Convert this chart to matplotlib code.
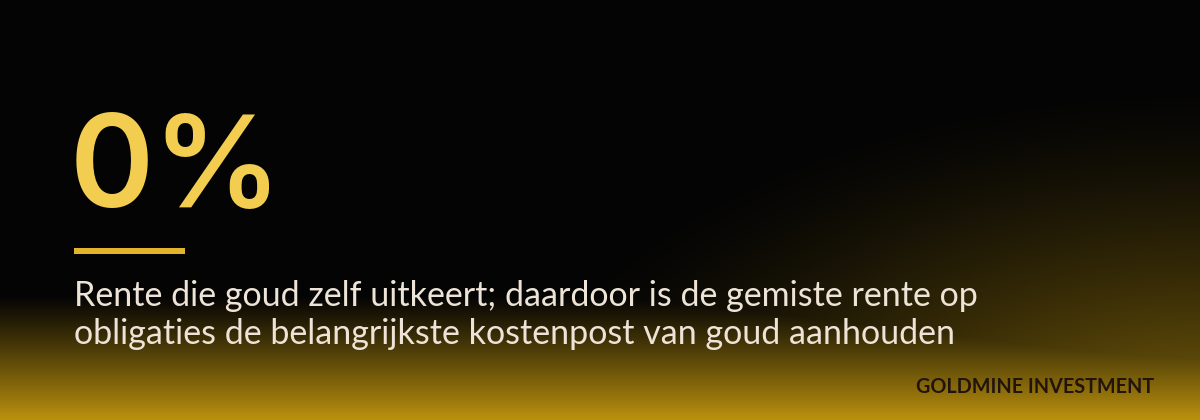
import numpy as np
import matplotlib.pyplot as plt

W, H = 1200, 420

stat_value = "0%"
stat_lines = [
    "Rente die goud zelf uitkeert; daardoor is de gemiste rente op",
    "obligaties de belangrijkste kostenpost van goud aanhouden",
]
brand = "GOLDMINE INVESTMENT"

fig = plt.figure(figsize=(12, 4.2), dpi=100)
ax = fig.add_axes([0, 0, 1, 1])
ax.set_xlim(0, W)
ax.set_ylim(H, 0)
ax.axis("off")

# background: black fading into gold at the bottom, with a glow bottom-right
yy, xx = np.mgrid[0:H, 0:W].astype(float)
t_lin = np.clip((yy - 295) / 125, 0, 1) ** 1.1
d = np.sqrt(((xx - 1200) / 1.8) ** 2 + (yy - 480) ** 2)
t_rad = np.clip(1 - d / 400, 0, 1) ** 1.5 * 0.8
t = np.maximum(t_lin, t_rad)
base = np.array([4, 4, 4]) / 255
gold = np.array([188, 146, 14]) / 255
img = base + (gold - base) * t[..., None]
ax.imshow(img, extent=[0, W, H, 0], aspect="auto", zorder=0)

ax.text(70, 207, stat_value, fontsize=92, color="#f2cd4f",
        family="Inter", fontweight="semibold", va="baseline", zorder=2)
ax.add_patch(plt.Rectangle((74, 248), 111, 6, color="#e3b42a", lw=0, zorder=2))

for i, line in enumerate(stat_lines):
    ax.text(74, 306 + i * 38, line, fontsize=24.5, color="#ede3d6",
            family="Lato", va="baseline", zorder=2)

ax.text(1154, 393, brand, fontsize=14.2, color="#21140a", family="Lato",
        fontweight="bold", ha="right", va="baseline", zorder=2)

fig.savefig("out.png", dpi=100)
